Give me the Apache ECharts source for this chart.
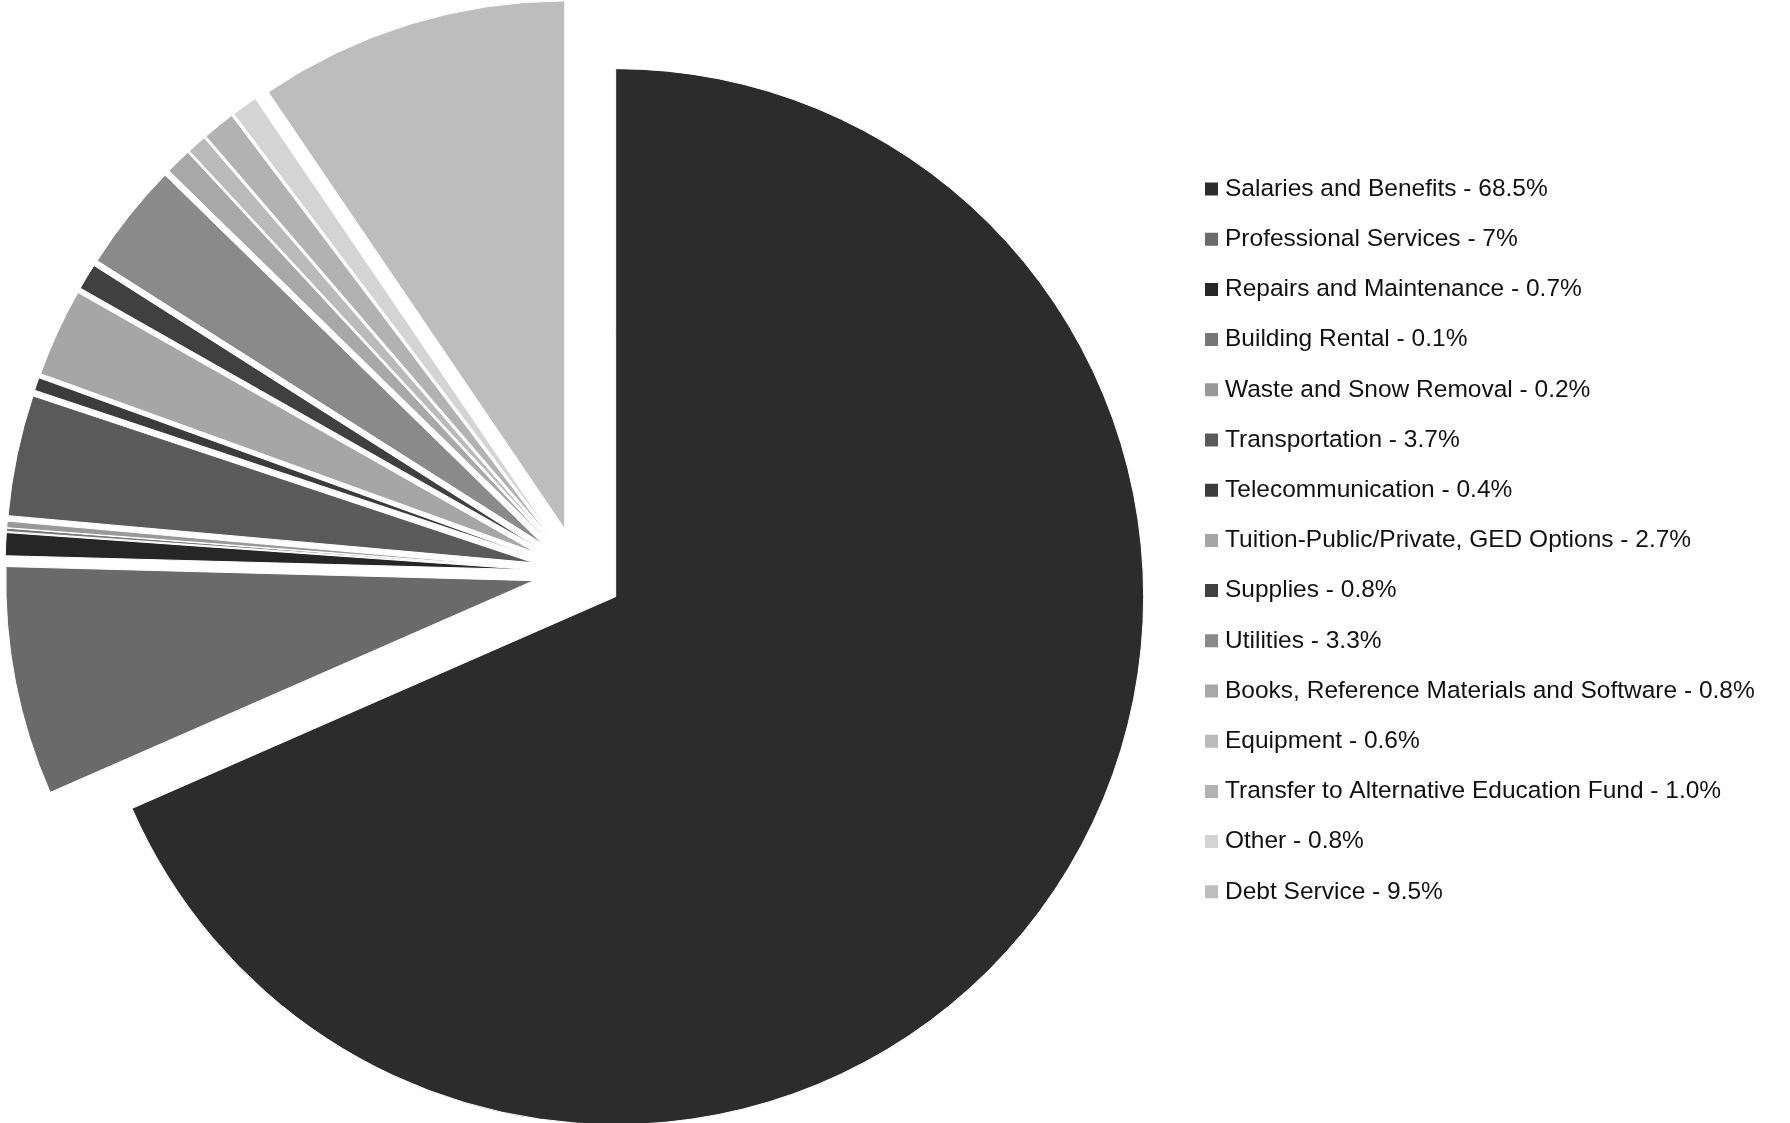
<!DOCTYPE html>
<html>
<head>
<meta charset="utf-8">
<script src="https://cdn.jsdelivr.net/npm/echarts@6/dist/echarts.min.js"></script>
<style>
html,body{margin:0;padding:0;background:#fff;}
#c{width:1790px;height:1123px;}
</style>
</head>
<body>
<div id="c"></div>
<script>
const categories = [
  "Salaries and Benefits",
  "Professional Services",
  "Repairs and Maintenance",
  "Building Rental",
  "Waste and Snow Removal",
  "Transportation",
  "Telecommunication",
  "Tuition-Public/Private, GED Options",
  "Supplies",
  "Utilities",
  "Books, Reference Materials and Software",
  "Equipment",
  "Transfer to Alternative Education Fund",
  "Other",
  "Debt Service"
];
const values = [68.5, 7, 0.7, 0.1, 0.2, 3.7, 0.4, 2.7, 0.8, 3.3, 0.8, 0.6, 1.0, 0.8, 9.5];
const pctLabels = ["68.5%", "7%", "0.7%", "0.1%", "0.2%", "3.7%", "0.4%", "2.7%", "0.8%", "3.3%", "0.8%", "0.6%", "1.0%", "0.8%", "9.5%"];
const colors = ["#2c2c2c", "#6a6a6a", "#262626", "#777777", "#999999", "#5a5a5a", "#3c3c3c", "#a6a6a6", "#404040", "#8a8a8a", "#a8a8a8", "#bababa", "#b2b2b2", "#d4d4d4", "#bdbdbd"];

const labelMap = {};
categories.forEach((c, i) => { labelMap[c] = c + " - " + pctLabels[i]; });

const chart = echarts.init(document.getElementById('c'), null, {renderer: 'canvas'});
chart.setOption({
  animation: false,
  backgroundColor: '#ffffff',
  color: colors,
  legend: {
    orient: 'vertical',
    left: 1198,
    top: 171.5,
    itemWidth: 15,
    itemHeight: 15,
    itemGap: 25.2,
    icon: 'rect',
    selectedMode: false,
    formatter: name => labelMap[name],
    textStyle: {
      fontFamily: 'Liberation Sans',
      fontSize: 24.5,
      lineHeight: 25,
      color: '#111111',
      padding: [0, 0, 0, 1]
    },
    data: categories
  },
  series: [{
    type: 'pie',
    center: [578, 572],
    radius: 528,
    startAngle: 90,
    clockwise: true,
    selectedMode: 'multiple',
    selectedOffset: 45,
    avoidLabelOverlap: false,
    label: {show: false},
    labelLine: {show: false},
    emphasis: {disabled: true},
    itemStyle: {borderColor: '#ffffff', borderWidth: 1},
    data: categories.map((c, i) => ({name: c, value: values[i], selected: true}))
  }]
});
</script>
</body>
</html>
